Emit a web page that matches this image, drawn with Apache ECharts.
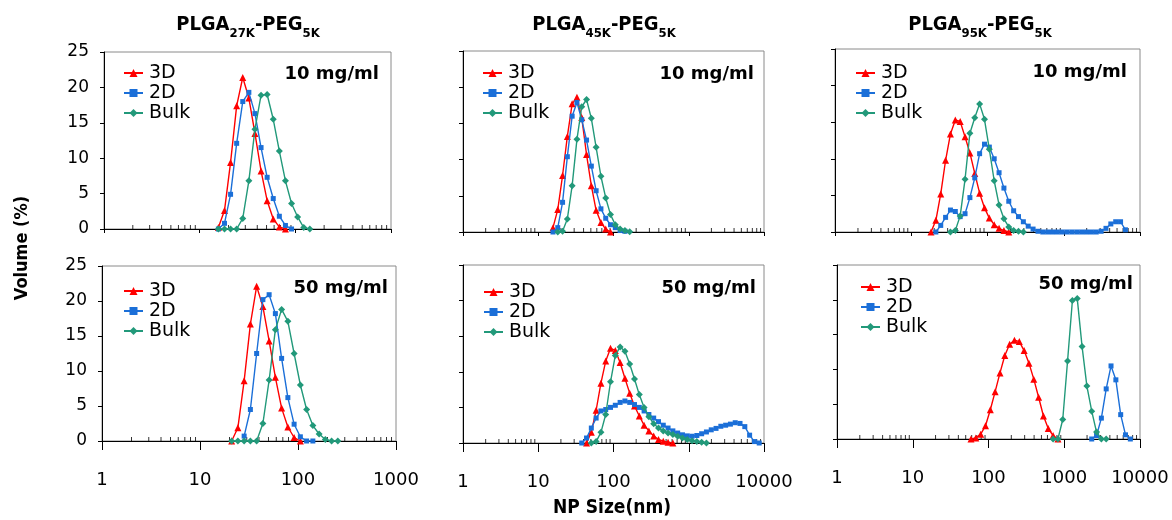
<!DOCTYPE html>
<html><head><meta charset="utf-8">
<script src="https://cdn.jsdelivr.net/npm/echarts@6/dist/echarts.min.js"></script>
<style>html,body{margin:0;padding:0;background:#fff}#c{width:1172px;height:520px}</style>
</head><body><div id="c"></div>
<script>
// DLS size bins (nm)
const sizeBins = [10.1, 11.7, 13.54, 15.69, 18.17, 21.04, 24.36, 28.21, 32.67, 37.84, 43.82, 50.75, 58.77, 68.06, 78.82, 91.28, 105.7, 122.4, 141.8, 164.2, 190.1, 220.2, 255, 295.3, 342, 396.1, 458.7, 531.2, 615.1, 712.4, 825, 955.4, 1106, 1281, 1484, 1718, 1990, 2305, 2669, 3091, 3580, 4145, 4801, 5560, 6439, 7456, 8635, 10000];

// PLGA27K-PEG5K, 10 mg/ml
const p27_10_3D   = {from: 15.69, v: [0.2, 2.6, 9.4, 17.4, 21.4, 18.5, 13.5, 8.2, 4.0, 1.4, 0.3, 0]};
const p27_10_2D   = {from: 15.69, v: [0, 0.8, 4.9, 12.1, 18.0, 19.3, 16.3, 11.5, 7.3, 4.3, 1.8, 0.5, 0]};
const p27_10_Bulk = {from: 15.69, v: [0, 0, 0, 0, 1.5, 6.8, 14.1, 18.9, 19.0, 15.5, 11.0, 6.8, 3.6, 1.7, 0.2, 0]};
// PLGA45K-PEG5K, 10 mg/ml
const p45_10_3D   = {from: 15.69, v: [0.6, 3.1, 7.8, 13.2, 17.7, 18.6, 15.8, 10.7, 6.4, 3.0, 1.3, 0.4, 0]};
const p45_10_2D   = {from: 15.69, v: [0, 0.6, 4.1, 10.4, 16.0, 17.9, 15.5, 12.7, 9.1, 5.7, 3.2, 1.9, 1.0, 0.6, 0.2, 0.1]};
const p45_10_Bulk = {from: 18.17, v: [0, 0.1, 1.8, 6.4, 12.8, 17.3, 18.3, 15.7, 11.7, 7.7, 4.7, 2.4, 1.0, 0.4, 0.2, 0.05]};
// PLGA95K-PEG5K, 10 mg/ml
const p95_10_3D   = {from: 18.17, v: [0, 1.6, 5.2, 9.8, 13.4, 15.3, 15.1, 13.0, 10.8, 8.0, 5.3, 3.3, 1.9, 1.0, 0.5, 0.2, 0]};
const p95_10_2D   = {from: 21.04, v: [0, 0.9, 2.0, 3.0, 2.8, 2.1, 2.5, 4.7, 7.4, 10.7, 12.0, 11.6, 10.0, 8.1, 6.0, 4.2, 2.9, 2.1, 1.4, 0.8, 0.4, 0.1, 0, 0, 0, 0, 0, 0, 0, 0, 0, 0, 0, 0, 0.1, 0.5, 1.1, 1.4, 1.4, 0.3]};
const p95_10_Bulk = {from: 32.67, v: [0, 0.2, 2.2, 7.2, 13.5, 15.6, 17.5, 15.4, 11.3, 7.0, 3.7, 1.8, 0.7, 0.2, 0.1, 0]};
// PLGA27K-PEG5K, 50 mg/ml
const p27_50_3D   = {from: 21.04, v: [0, 1.9, 8.6, 16.7, 22.1, 19.2, 14.3, 9.1, 4.7, 2.0, 0.5, 0]};
const p27_50_2D   = {from: 28.21, v: [0.7, 4.5, 12.5, 20.2, 20.9, 18.2, 11.8, 6.2, 2.4, 0.6, 0, 0]};
const p27_50_Bulk = {from: 21.04, v: [0, 0, 0, 0, 0, 2.5, 8.7, 15.9, 18.8, 17.1, 12.5, 8.0, 4.5, 2.2, 1.0, 0.2, 0, 0]};
// PLGA45K-PEG5K, 50 mg/ml
const p45_50_3D   = {from: 43.82, v: [0, 1.5, 4.6, 8.4, 11.5, 13.3, 13.0, 11.3, 9.1, 7.0, 5.2, 3.8, 2.5, 1.7, 1.0, 0.5, 0.25, 0.1, 0]};
const p45_50_2D   = {from: 37.84, v: [0, 0.7, 2.1, 3.5, 4.5, 4.7, 5.0, 5.3, 5.7, 5.9, 5.7, 5.4, 5.0, 4.5, 4.0, 3.5, 3.0, 2.5, 2.1, 1.7, 1.4, 1.15, 1.0, 0.95, 1.05, 1.3, 1.55, 1.85, 2.05, 2.35, 2.5, 2.65, 2.85, 2.75, 2.3, 1.1, 0.2, 0]};
const p45_50_Bulk = {from: 50.75, v: [0, 0.2, 1.5, 4.0, 8.6, 12.3, 13.5, 12.9, 11.1, 9.0, 6.8, 5.0, 3.7, 2.7, 2.1, 1.7, 1.4, 1.2, 0.95, 0.7, 0.5, 0.3, 0.2, 0.1, 0]};
// PLGA95K-PEG5K, 50 mg/ml
const p95_50_3D   = {from: 58.77, v: [0, 0.15, 0.7, 1.9, 4.2, 6.8, 9.5, 12.0, 13.6, 14.2, 14.0, 12.7, 10.9, 8.6, 6.0, 3.3, 1.5, 0.5, 0]};
const p95_50_2D   = {from: 2305, v: [0, 0.5, 3.0, 7.2, 10.5, 8.5, 3.5, 0.6, 0]};
const p95_50_Bulk = {from: 712.4, v: [0, 0, 2.8, 11.2, 19.9, 20.2, 13.3, 7.6, 4.0, 1.0, 0, 0]};

const seriesNames = ['3D', '2D', 'Bulk'];
const polymerSub = ['27K', '45K', '95K'];
const concLabels = ['10 mg/ml', '50 mg/ml'];
const xMaxByCol = [1000, 10000, 10000];
const yTickMax = 25, yTickStep = 5;
const minorMultipliers = [2, 3, 4, 5, 6, 7, 8, 9];

const panels = [
  [p27_10_3D, p27_10_2D, p27_10_Bulk], [p45_10_3D, p45_10_2D, p45_10_Bulk], [p95_10_3D, p95_10_2D, p95_10_Bulk],
  [p27_50_3D, p27_50_2D, p27_50_Bulk], [p45_50_3D, p45_50_2D, p45_50_Bulk], [p95_50_3D, p95_50_2D, p95_50_Bulk]
];

// ---- layout / style (not data) ----
const boxes = [
  {l: 104, t: 52, w: 287, h: 177}, {l: 463, t: 51, w: 301, h: 181}, {l: 835, t: 49, w: 305, h: 183},
  {l: 102, t: 266, w: 294, h: 175}, {l: 463, t: 265, w: 301, h: 178}, {l: 837, t: 265, w: 303, h: 174}
];
const legendPos = [[123, 63], [482, 63], [855, 63], [123, 281], [483, 282], [860, 277]];
const concPos = [[379, 74], [754, 74], [1127, 72], [388, 288], [756, 288], [1133, 284]];
const titleX = [243, 599, 975];
const colors = ['#ff0000', '#1b6fd8', '#22997a'];
const symbols = ['triangle', 'rect', 'diamond'];
const symSizes = [7, 5, 7];
const FONT = "'DejaVu Sans', sans-serif";
const FONTC = "'DejaVu Sans Condensed', 'DejaVu Sans', sans-serif";

function toPairs(spec) {
  const i0 = sizeBins.indexOf(spec.from);
  return spec.v.map((val, i) => [sizeBins[i0 + i], val]);
}

const grid = [], xAxis = [], yAxis = [], series = [], legend = [], graphic = [], title = [];
boxes.forEach((b, p) => {
  const col = p % 3, row = Math.floor(p / 3);
  grid.push({left: b.l, top: b.t, width: b.w, height: b.h, show: true, borderColor: '#8a8a8a', borderWidth: 1, containLabel: false});
  xAxis.push({
    type: 'log', logBase: 10, gridIndex: p, min: 1, max: xMaxByCol[col],
    axisLine: {show: true, lineStyle: {color: '#000', width: 1}},
    axisTick: {show: true, length: row === 1 ? 9 : 4, lineStyle: {color: '#000'}},
    minorTick: {show: false},
    splitLine: {show: false},
    axisLabel: {show: row === 1, margin: 30, fontFamily: FONT, fontSize: 18, color: '#000',
      formatter: v => String(Math.round(v))}
  });
  yAxis.push({
    type: 'value', gridIndex: p, min: 0, max: yTickMax, interval: yTickStep,
    axisLine: {show: true, lineStyle: {color: '#000', width: 1}},
    axisTick: {show: true, length: 4, lineStyle: {color: '#000'}},
    splitLine: {show: false},
    axisLabel: {show: col === 0, margin: 15, fontFamily: FONT, fontSize: 17, color: '#000'}
  });
  panels[p].forEach((spec, s) => {
    series.push({
      name: seriesNames[s], type: 'line', xAxisIndex: p, yAxisIndex: p,
      data: toPairs(spec), symbol: symbols[s], symbolSize: symSizes[s], showAllSymbol: true,
      lineStyle: {color: colors[s], width: 1.4}, itemStyle: {color: colors[s]},
      emphasis: {disabled: true}, z: 3 + s
    });
  });
  // minor ticks along the log axis (inside)
  const minor = [];
  for (let dec = 1; dec < xMaxByCol[col]; dec *= 10) minorMultipliers.forEach(m => minor.push([m * dec, 0]));
  series.push({
    type: 'scatter', xAxisIndex: p, yAxisIndex: p, data: minor, symbol: 'rect', symbolSize: [1, 4],
    symbolOffset: [0, -2], itemStyle: {color: '#000'}, silent: true, clip: false, z: 2, tooltip: {show: false}
  });
  legend.push({
    data: seriesNames, orient: 'vertical', left: legendPos[p][0], top: legendPos[p][1],
    itemWidth: 19, itemHeight: 10, itemGap: 0, padding: 0, selectedMode: false,
    textStyle: {fontFamily: FONT, fontSize: 19, color: '#000', lineHeight: 20, padding: [0, 0, 0, 1]}
  });
  graphic.push({
    type: 'text', x: concPos[p][0], y: concPos[p][1], silent: true,
    style: {text: concLabels[row], align: 'right', verticalAlign: 'middle', font: "bold 18px " + FONT, fill: '#000'}
  });
});

polymerSub.forEach((sub, c) => {
  title.push({
    text: '{b|PLGA}{s|' + sub + '}{b|-PEG}{s|5K}', left: titleX[c], top: 10, textAlign: 'center',
    textStyle: {rich: {
      b: {fontFamily: FONTC, fontWeight: 'bold', fontSize: 20, color: '#000', lineHeight: 24, verticalAlign: 'top'},
      s: {fontFamily: FONTC, fontWeight: 'bold', fontSize: 13, color: '#000', lineHeight: 14, padding: [12, 0, 0, 0], verticalAlign: 'top'}
    }}
  });
});

graphic.push({type: 'text', x: 22, y: 248, rotation: Math.PI / 2, silent: true,
  style: {text: 'Volume (%)', align: 'center', verticalAlign: 'middle', font: "bold 18px " + FONTC, fill: '#000'}});
graphic.push({type: 'text', x: 612, y: 508, silent: true,
  style: {text: 'NP Size(nm)', align: 'center', verticalAlign: 'middle', font: "bold 19px " + FONTC, fill: '#000'}});

const chart = echarts.init(document.getElementById('c'), null, {renderer: 'canvas'});
chart.setOption({animation: false, backgroundColor: '#fff', title, grid, xAxis, yAxis, series, legend, graphic});
</script></body></html>
